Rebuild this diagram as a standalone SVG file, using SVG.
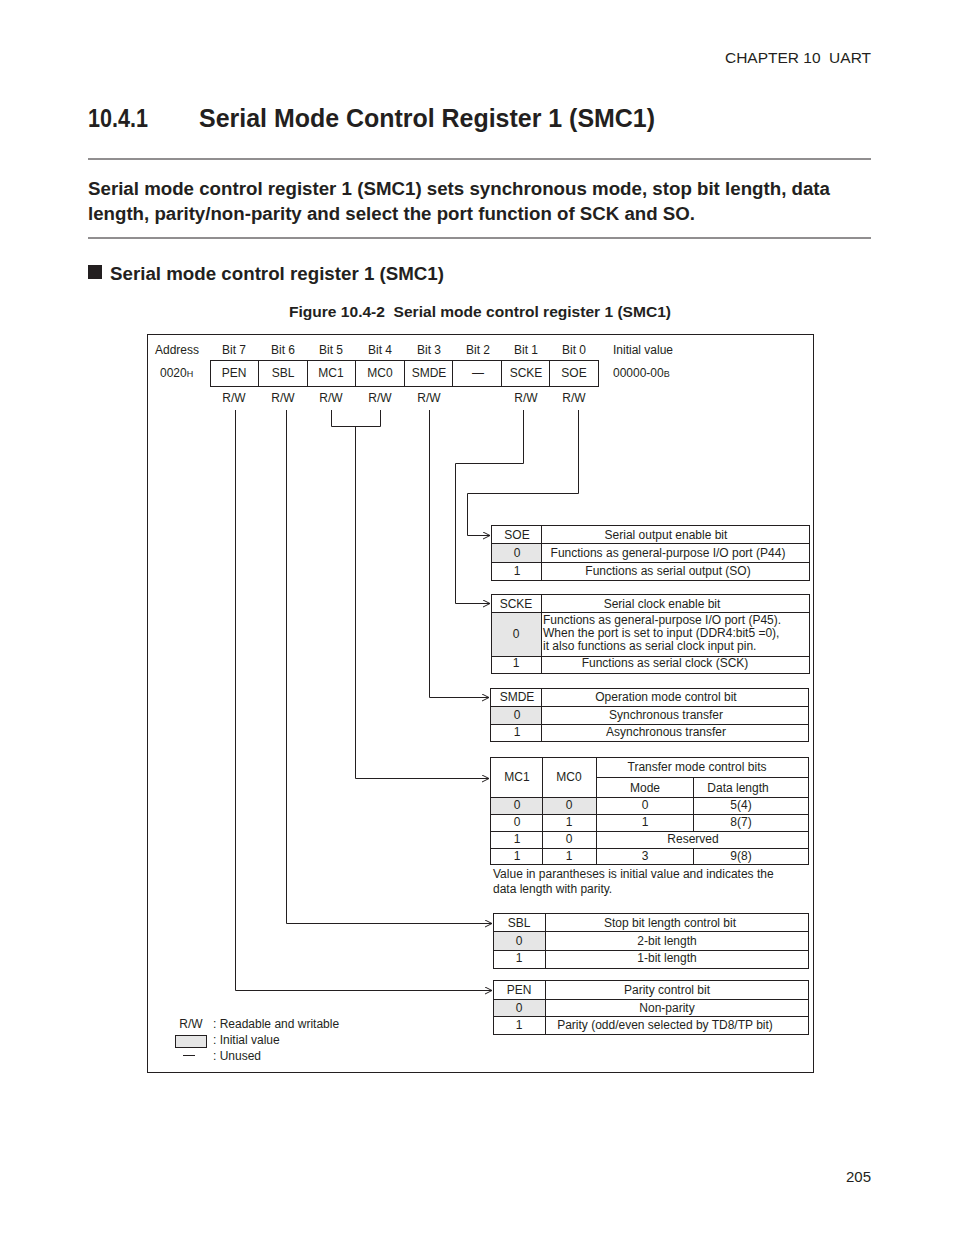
<svg xmlns="http://www.w3.org/2000/svg" width="954" height="1235" viewBox="0 0 954 1235">
<defs>
<style>
text{font-family:"Liberation Sans",Arial,sans-serif;fill:#231f20}
.t{font-size:12px}
.c{text-anchor:middle}
.b{font-weight:bold}
.pre{white-space:pre}
.ln{stroke:#231f20;stroke-width:1;fill:none}
.box{stroke:#231f20;stroke-width:1;fill:#fff}
.g{fill:#e6e6e6;stroke:none}
</style>
<marker id="arr" markerWidth="10" markerHeight="10" refX="8" refY="4" orient="auto" markerUnits="userSpaceOnUse">
<path d="M1,0.5 L8,4 L1,7.5" fill="none" stroke="#231f20" stroke-width="1"/>
</marker>
</defs>
<rect width="954" height="1235" fill="#fff"/>

<g id="page">
<text x="871" y="63" font-size="14" text-anchor="end" class="pre" textLength="146" lengthAdjust="spacingAndGlyphs">CHAPTER 10  UART</text>
<text x="88" y="127" font-size="25" class="b" textLength="60" lengthAdjust="spacingAndGlyphs">10.4.1</text>
<text x="199" y="127" font-size="25" class="b" textLength="456" lengthAdjust="spacingAndGlyphs">Serial Mode Control Register 1 (SMC1)</text>
<line x1="88" y1="159" x2="871" y2="159" class="ln"/>
<text x="88" y="195" font-size="18" class="b" textLength="742" lengthAdjust="spacingAndGlyphs">Serial mode control register 1 (SMC1) sets synchronous mode, stop bit length, data</text>
<text x="88" y="220" font-size="18" class="b" textLength="607" lengthAdjust="spacingAndGlyphs">length, parity/non-parity and select the port function of SCK and SO.</text>
<line x1="88" y1="238" x2="871" y2="238" class="ln"/>
<rect x="88" y="265" width="14" height="14" fill="#231f20"/>
<text x="110" y="280" font-size="18" class="b" textLength="334" lengthAdjust="spacingAndGlyphs">Serial mode control register 1 (SMC1)</text>
<text x="289" y="317" font-size="15" class="b pre" textLength="382" lengthAdjust="spacingAndGlyphs">Figure 10.4-2  Serial mode control register 1 (SMC1)</text>
<text x="871" y="1182" font-size="15" text-anchor="end">205</text>
</g>

<rect id="frame" x="147.5" y="334.5" width="666" height="738" class="box" fill="none"/>

<g id="register" class="t">
<text x="177" y="354" class="c">Address</text>
<text x="160" y="377">0020<tspan font-size="9">H</tspan></text>
<text x="643" y="354" class="c">Initial value</text>
<text x="613" y="377">00000-00<tspan font-size="9">B</tspan></text>
<text x="234" y="354" class="c">Bit 7</text>
<text x="283" y="354" class="c">Bit 6</text>
<text x="331" y="354" class="c">Bit 5</text>
<text x="380" y="354" class="c">Bit 4</text>
<text x="429" y="354" class="c">Bit 3</text>
<text x="478" y="354" class="c">Bit 2</text>
<text x="526" y="354" class="c">Bit 1</text>
<text x="574" y="354" class="c">Bit 0</text>
<rect x="210.5" y="360.5" width="388" height="26" class="box"/>
<path class="ln" d="M258.5,360.5v26M307.5,360.5v26M355.5,360.5v26M404.5,360.5v26M452.5,360.5v26M501.5,360.5v26M549.5,360.5v26"/>
<text x="234" y="377" class="c">PEN</text>
<text x="283" y="377" class="c">SBL</text>
<text x="331" y="377" class="c">MC1</text>
<text x="380" y="377" class="c">MC0</text>
<text x="429" y="377" class="c">SMDE</text>
<text x="478" y="377" class="c">—</text>
<text x="526" y="377" class="c">SCKE</text>
<text x="574" y="377" class="c">SOE</text>
<text x="234" y="402" class="c">R/W</text>
<text x="283" y="402" class="c">R/W</text>
<text x="331" y="402" class="c">R/W</text>
<text x="380" y="402" class="c">R/W</text>
<text x="429" y="402" class="c">R/W</text>
<text x="526" y="402" class="c">R/W</text>
<text x="574" y="402" class="c">R/W</text>
</g>

<g id="connectors">
<path class="ln" marker-end="url(#arr)" d="M235.5,410V990.5H492"/>
<path class="ln" marker-end="url(#arr)" d="M286.5,410V923.5H492"/>
<path class="ln" d="M331.5,410V426.5H380.5V410"/>
<path class="ln" marker-end="url(#arr)" d="M355.5,426.5V778.5H489"/>
<path class="ln" marker-end="url(#arr)" d="M429.5,410V697.5H489"/>
<path class="ln" marker-end="url(#arr)" d="M523.5,410V463.5H455.5V603.5H490"/>
<path class="ln" marker-end="url(#arr)" d="M578.5,410V493.5H467.5V535.5H490"/>
</g>

<g id="table-soe" class="t">
<rect x="491.5" y="525.5" width="318" height="55" class="box"/>
<rect x="492" y="544" width="49" height="18" class="g"/>
<path class="ln" d="M491.5,543.5H809.5M491.5,562.5H809.5M541.5,525.5V580.5"/>
<text x="517" y="539" class="c">SOE</text>
<text x="666" y="539" class="c">Serial output enable bit</text>
<text x="517" y="557" class="c">0</text>
<text x="668" y="557" class="c">Functions as general-purpose I/O port (P44)</text>
<text x="517" y="575" class="c">1</text>
<text x="668" y="575" class="c">Functions as serial output (SO)</text>
</g>

<g id="table-scke" class="t">
<rect x="491.5" y="594.5" width="318" height="79" class="box"/>
<rect x="492" y="613" width="49" height="43" class="g"/>
<path class="ln" d="M491.5,612.5H809.5M491.5,656.5H809.5M541.5,594.5V673.5"/>
<text x="516" y="608" class="c">SCKE</text>
<text x="662" y="608" class="c">Serial clock enable bit</text>
<text x="516" y="638" class="c">0</text>
<text x="543" y="624">Functions as general-purpose I/O port (P45).</text>
<text x="543" y="637">When the port is set to input (DDR4:bit5 =0),</text>
<text x="543" y="650">it also functions as serial clock input pin.</text>
<text x="516" y="667" class="c">1</text>
<text x="665" y="667" class="c">Functions as serial clock (SCK)</text>
</g>

<g id="table-smde" class="t">
<rect x="490.5" y="688.5" width="318" height="53" class="box"/>
<rect x="491" y="707" width="50" height="17" class="g"/>
<path class="ln" d="M490.5,706.5H808.5M490.5,724.5H808.5M541.5,688.5V741.5"/>
<text x="517" y="701" class="c">SMDE</text>
<text x="666" y="701" class="c">Operation mode control bit</text>
<text x="517" y="719" class="c">0</text>
<text x="666" y="719" class="c">Synchronous transfer</text>
<text x="517" y="736" class="c">1</text>
<text x="666" y="736" class="c">Asynchronous transfer</text>
</g>

<g id="table-mc" class="t">
<rect x="490.5" y="757.5" width="318" height="107" class="box"/>
<rect x="491" y="798" width="105" height="16" class="g"/>
<path class="ln" d="M596.5,777.5H808.5M490.5,797.5H808.5M490.5,814.5H808.5M490.5,831.5H808.5M490.5,848.5H808.5M542.5,757.5V864.5M596.5,757.5V864.5M693.5,777.5V831.5M693.5,848.5V864.5"/>
<text x="517" y="781" class="c">MC1</text>
<text x="569" y="781" class="c">MC0</text>
<text x="697" y="771" class="c">Transfer mode control bits</text>
<text x="645" y="792" class="c">Mode</text>
<text x="738" y="792" class="c">Data length</text>
<text x="517" y="809" class="c">0</text>
<text x="569" y="809" class="c">0</text>
<text x="645" y="809" class="c">0</text>
<text x="741" y="809" class="c">5(4)</text>
<text x="517" y="826" class="c">0</text>
<text x="569" y="826" class="c">1</text>
<text x="645" y="826" class="c">1</text>
<text x="741" y="826" class="c">8(7)</text>
<text x="517" y="843" class="c">1</text>
<text x="569" y="843" class="c">0</text>
<text x="693" y="843" class="c">Reserved</text>
<text x="517" y="860" class="c">1</text>
<text x="569" y="860" class="c">1</text>
<text x="645" y="860" class="c">3</text>
<text x="741" y="860" class="c">9(8)</text>
<text x="493" y="878">Value in parantheses is initial value and indicates the</text>
<text x="493" y="893">data length with parity.</text>
</g>

<g id="table-sbl" class="t">
<rect x="493.5" y="913.5" width="315" height="55" class="box"/>
<rect x="494" y="932" width="51" height="18" class="g"/>
<path class="ln" d="M493.5,931.5H808.5M493.5,950.5H808.5M545.5,913.5V968.5"/>
<text x="519" y="927" class="c">SBL</text>
<text x="670" y="927" class="c">Stop bit length control bit</text>
<text x="519" y="945" class="c">0</text>
<text x="667" y="945" class="c">2-bit length</text>
<text x="519" y="962" class="c">1</text>
<text x="667" y="962" class="c">1-bit length</text>
</g>

<g id="table-pen" class="t">
<rect x="493.5" y="980.5" width="315" height="54" class="box"/>
<rect x="494" y="1000" width="51" height="16" class="g"/>
<path class="ln" d="M493.5,999.5H808.5M493.5,1016.5H808.5M545.5,980.5V1034.5"/>
<text x="519" y="994" class="c">PEN</text>
<text x="667" y="994" class="c">Parity control bit</text>
<text x="519" y="1012" class="c">0</text>
<text x="667" y="1012" class="c">Non-parity</text>
<text x="519" y="1029" class="c">1</text>
<text x="665" y="1029" class="c">Parity (odd/even selected by TD8/TP bit)</text>
</g>

<g id="legend" class="t">
<text x="191" y="1028" class="c">R/W</text>
<text x="213" y="1028">: Readable and writable</text>
<rect x="175.5" y="1035.5" width="31" height="12" fill="#e6e6e6" stroke="#231f20" stroke-width="1"/>
<text x="213" y="1044">: Initial value</text>
<line x1="183" y1="1055.5" x2="195" y2="1055.5" class="ln"/>
<text x="213" y="1060">: Unused</text>
</g>
</svg>
